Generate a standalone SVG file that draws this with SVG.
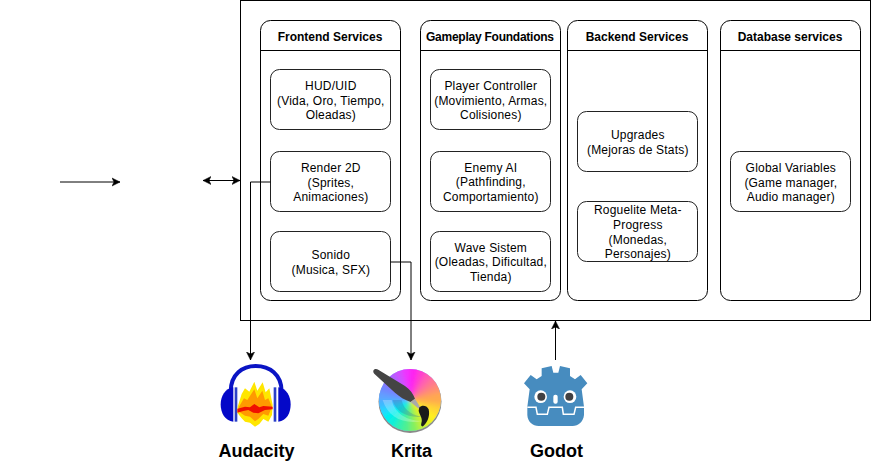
<svg xmlns="http://www.w3.org/2000/svg" width="871" height="471" viewBox="0 0 871 471">
<style>
text{font-family:"Liberation Sans",Arial,sans-serif;font-size:12px;text-anchor:middle;fill:#000;letter-spacing:.2px}
.box ~ text{transform:translateX(.8px)}
.title{font-weight:bold;letter-spacing:0}
.big{font-weight:bold;font-size:18px;letter-spacing:0}
.lane{fill:#fff;stroke:#000;stroke-width:1}
.hdr{fill:none;stroke:#000;stroke-width:1}
.box{fill:#fff;stroke:#222;stroke-width:1}
.conn{fill:none;stroke:#000;stroke-width:1}
</style>
<defs>
<marker id="end" markerUnits="userSpaceOnUse" markerWidth="10" markerHeight="10" refX="8" refY="5" orient="auto-start-reverse"><path d="M8,5 L0,1 L2,5 L0,9 Z" fill="#000" stroke="#000" stroke-width=".5"/></marker>
<clipPath id="kc"><circle cx="410" cy="400" r="31"/></clipPath>
<filter id="soft" x="-20%" y="-20%" width="140%" height="140%"><feGaussianBlur stdDeviation="2.2"/></filter>
<circle id="w" r="20" fill="none" stroke-width="40" stroke-dasharray="7 1000"/>
</defs>
<rect id="outer" x="240.5" y="0.5" width="630" height="320" fill="#fff" stroke="#000"/>
<g id="frontend"><rect class="lane" x="260.5" y="20.5" width="140" height="280" rx="10"/><path class="hdr" d="M260.5,50.5H400.5"/><text class="title" x="330" y="41">Frontend Services</text></g>
<g id="gameplay"><rect class="lane" x="420.5" y="20.5" width="140" height="280" rx="10"/><path class="hdr" d="M420.5,50.5H560.5"/><text class="title" x="490" y="41" textLength="128">Gameplay Foundations</text></g>
<g id="backend"><rect class="lane" x="567.5" y="20.5" width="140" height="280" rx="10"/><path class="hdr" d="M567.5,50.5H707.5"/><text class="title" x="637" y="41">Backend Services</text></g>
<g id="database"><rect class="lane" x="720.5" y="20.5" width="140" height="280" rx="10"/><path class="hdr" d="M720.5,50.5H860.5"/><text class="title" x="790" y="41">Database services</text></g>
<g id="hud"><rect class="box" x="270.5" y="69.5" width="120" height="60" rx="9"/><text x="330" y="90">HUD/UID</text><text x="330" y="105">(Vida, Oro, Tiempo,</text><text x="330" y="119">Oleadas)</text></g>
<g id="render"><rect class="box" x="270.5" y="151.5" width="120" height="60" rx="9"/><text x="330" y="172">Render 2D</text><text x="330" y="187">(Sprites,</text><text x="330" y="201">Animaciones)</text></g>
<g id="sonido"><rect class="box" x="270.5" y="231.5" width="120" height="60" rx="9"/><text x="330" y="259">Sonido</text><text x="330" y="274">(Musica, SFX)</text></g>
<g id="player"><rect class="box" x="430.5" y="69.5" width="120" height="60" rx="9"/><text x="490" y="90">Player Controller</text><text x="490" y="105">(Movimiento, Armas,</text><text x="490" y="119">Colisiones)</text></g>
<g id="enemy"><rect class="box" x="430.5" y="151.5" width="120" height="60" rx="9"/><text x="490" y="172">Enemy AI</text><text x="490" y="186">(Pathfinding,</text><text x="490" y="201">Comportamiento)</text></g>
<g id="wave"><rect class="box" x="430.5" y="231.5" width="120" height="60" rx="9"/><text x="490" y="252">Wave Sistem</text><text x="490" y="266">(Oleadas, Dificultad,</text><text x="490" y="281">Tienda)</text></g>
<g id="upgrades"><rect class="box" x="577.5" y="111.5" width="120" height="60" rx="9"/><text x="637" y="139">Upgrades</text><text x="637" y="154">(Mejoras de Stats)</text></g>
<g id="roguelite"><rect class="box" x="577.5" y="201.5" width="120" height="60" rx="9"/><text x="637" y="214">Roguelite Meta-</text><text x="637" y="229">Progress</text><text x="637" y="244">(Monedas,</text><text x="637" y="258">Personajes)</text></g>
<g id="global"><rect class="box" x="730.5" y="151.5" width="120" height="60" rx="9"/><text x="790" y="172">Global Variables</text><text x="790" y="187">(Game manager,</text><text x="790" y="201">Audio manager)</text></g>
<g id="connectors">
<path class="conn" d="M60,182H120" marker-end="url(#end)"/>
<path class="conn" d="M203,180.5H240" marker-start="url(#end)" marker-end="url(#end)"/>
<path class="conn" d="M270.5,182H250.5V360" marker-end="url(#end)"/>
<path class="conn" d="M390.5,262H411V360" marker-end="url(#end)"/>
<path class="conn" d="M555.5,360V321" marker-end="url(#end)"/>
</g>
<g id="audacity">
<g transform="translate(200,350) scale(.3333)">
<path d="M92,125C92,72 128,48 167,48C208,48 245,72 245,125" fill="none" stroke="#0a14c4" stroke-width="12"/>
<path d="M100,112C75,115 62,140 62,163C62,190 75,212 100,215Z" fill="#0408c8"/>
<path d="M235,112C260,115 272,140 272,163C272,190 260,212 235,215Z" fill="#0408c8"/>
<rect x="104" y="112" width="8" height="103" fill="#2a40c8"/><rect x="221" y="112" width="8" height="103" fill="#2a40c8"/>
<path d="M113,170L125,132L135,115L148,125L163,95L172,122L188,97L197,127L208,115L218,165L216,195L205,215L190,207L178,222L165,230L150,218L135,215L125,205L113,190Z" fill="#ffe600"/>
<path d="M116,172L132,145L142,150L163,118L172,145L187,122L195,150L205,145L216,170L205,197L190,192L175,207L165,214L150,200L135,197L118,186Z" fill="#ff9a00"/>
<path d="M112,176L135,170L150,172L163,162L178,172L190,168L218,170L218,178L195,180L175,190L160,188L145,180L130,183L112,188Z" fill="#f01000"/>
</g>
<text class="big" x="256.5" y="457">Audacity</text>
</g>
<g id="krita">
<circle cx="410" cy="401.5" r="31.5" fill="#8a8a8a"/>
<circle cx="410" cy="400" r="31" fill="#80c0ff"/>
<g clip-path="url(#kc)"><g filter="url(#soft)" transform="translate(410,400)">
<use href="#w" transform="rotate(0)" stroke="#ffc040"/>
<use href="#w" transform="rotate(15)" stroke="#ffd830"/>
<use href="#w" transform="rotate(30)" stroke="#fff020"/>
<use href="#w" transform="rotate(45)" stroke="#e0f020"/>
<use href="#w" transform="rotate(60)" stroke="#b8f040"/>
<use href="#w" transform="rotate(75)" stroke="#80f060"/>
<use href="#w" transform="rotate(90)" stroke="#50f090"/>
<use href="#w" transform="rotate(105)" stroke="#30f0b0"/>
<use href="#w" transform="rotate(120)" stroke="#10f0d8"/>
<use href="#w" transform="rotate(135)" stroke="#00f0f0"/>
<use href="#w" transform="rotate(150)" stroke="#20d8ff"/>
<use href="#w" transform="rotate(165)" stroke="#40b8ff"/>
<use href="#w" transform="rotate(180)" stroke="#60a0ff"/>
<use href="#w" transform="rotate(195)" stroke="#7088ff"/>
<use href="#w" transform="rotate(210)" stroke="#9070ff"/>
<use href="#w" transform="rotate(225)" stroke="#b060ff"/>
<use href="#w" transform="rotate(240)" stroke="#d050ff"/>
<use href="#w" transform="rotate(255)" stroke="#f030ff"/>
<use href="#w" transform="rotate(270)" stroke="#ff20f0"/>
<use href="#w" transform="rotate(285)" stroke="#ff40d0"/>
<use href="#w" transform="rotate(300)" stroke="#ff60b0"/>
<use href="#w" transform="rotate(315)" stroke="#ff7890"/>
<use href="#w" transform="rotate(330)" stroke="#ff9070"/>
<use href="#w" transform="rotate(345)" stroke="#ffa850"/>
</g></g>
<g transform="translate(360,350) scale(.3333)">
<path d="M68,150C85,205 135,225 190,212C150,215 105,195 95,150Z" fill="#fff" fill-opacity=".25"/>
<path d="M98,150C105,185 145,205 185,200C150,195 130,175 125,150Z" fill="#3070a0" fill-opacity=".3"/>
<path d="M40,62C42,56 50,56 56,60L135,108C150,118 160,132 165,146L152,156C135,150 118,140 105,128L46,74C41,70 39,66 40,62Z" fill="#444"/>
<path d="M165,146L180,170L176,176L152,156Z" fill="#aaa"/>
<path d="M178,172C185,165 200,165 206,178C210,195 205,215 190,228C185,232 182,226 184,220C190,205 178,195 176,182Z" fill="#1a1a1a"/>
</g>
<text class="big" x="411.5" y="457">Krita</text>
</g>
<g id="godot">
<g transform="translate(510,350) scale(.3333)">
<path d="M95,55L125,48L130,68L145,68L150,48L180,55L180,78L195,88L212,75L232,100L215,118L222,170L222,195C220,215 205,228 188,228L86,228C68,228 53,215 52,195L52,170L59,118L42,100L62,75L80,88L95,78Z" fill="#478cbf"/>
<path d="M52,172H78L82,193H112L117,172H157L160,193H192L197,172H222" fill="none" stroke="#fff" stroke-width="4.5"/>
<circle cx="92" cy="140" r="19" fill="#fff"/><circle cx="180" cy="140" r="19" fill="#fff"/>
<circle cx="94" cy="140" r="12" fill="#414042"/><circle cx="178" cy="140" r="12" fill="#414042"/>
<rect x="130" y="134" width="13" height="27" rx="6" fill="#fff"/>
</g>
<text class="big" x="556.5" y="457">Godot</text>
</g>
</svg>
